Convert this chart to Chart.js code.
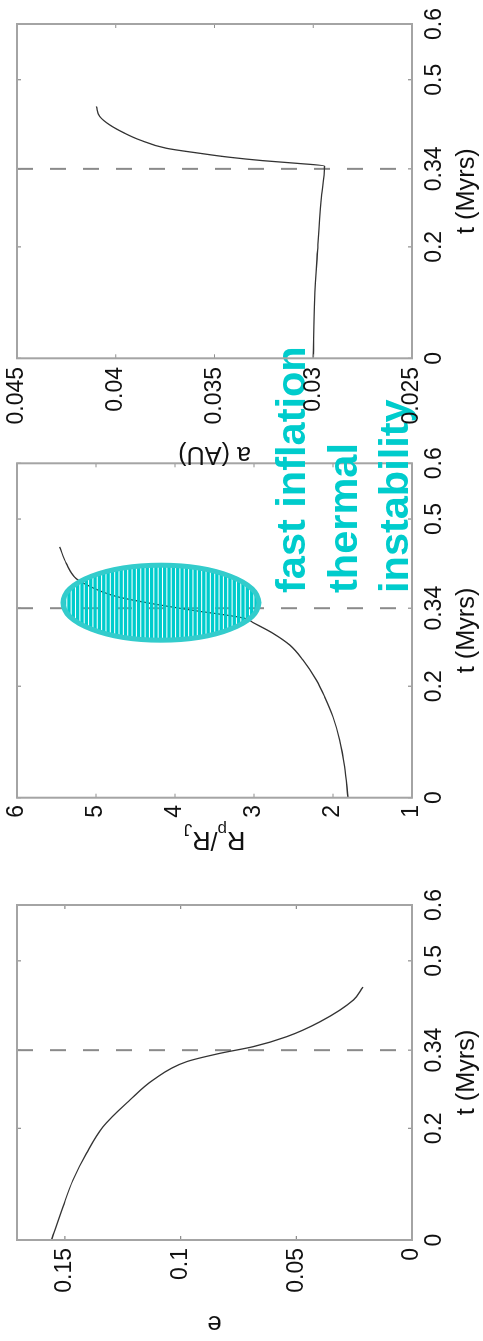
<!DOCTYPE html>
<html>
<head>
<meta charset="utf-8">
<title>Planet evolution: e, Rp/RJ and a versus time</title>
<script src="https://cdn.jsdelivr.net/npm/chart.js@4.4.1/dist/chart.umd.min.js"></script>
<style>
  html, body { margin: 0; padding: 0; background: #fff; overflow: hidden; width: 483px; height: 1341px; }
  /* the three panels are laid out side by side, then the whole figure is turned a quarter turn */
  #figure { position: absolute; left: 0; top: 0; width: 1341px; height: 483px;
            transform-origin: 0 0; transform: translateY(1341px) rotate(-90deg); }
  #figure canvas { position: absolute; left: 0; top: 0; }
</style>
</head>
<body>
<div id="figure">
  <canvas id="eccChart" width="1341" height="483"></canvas>
  <canvas id="radChart" width="1341" height="483"></canvas>
  <canvas id="smaChart" width="1341" height="483"></canvas>
</div>
<script>
// ---- data ---------------------------------------------------------------
const timeTicks = [0, 0.2, 0.34, 0.5, 0.6];
const transitionTime = 0.34;

// eccentricity
const eccTimes  = [0, 0.06, 0.1075, 0.155, 0.2028, 0.2507, 0.2866, 0.3194, 0.3343, 0.3463, 0.3642, 0.391, 0.43, 0.453];
const eccValues = [0.1558, 0.1508, 0.1465, 0.1407, 0.1335, 0.1219, 0.1119, 0.0974, 0.0830, 0.0686, 0.0541, 0.0397, 0.0253, 0.0212];
const eccTicks  = [0, 0.05, 0.1, 0.15];

// planet radius in Jupiter radii
const radTimes  = [0, 0.0556, 0.1035, 0.145, 0.181, 0.211, 0.247, 0.274, 0.295, 0.314, 0.322, 0.337, 0.349, 0.361, 0.385, 0.393, 0.42, 0.45];
const radValues = [1.81, 1.852, 1.915, 2.0, 2.105, 2.21, 2.38, 2.548, 2.76, 3.01, 3.12, 3.81, 4.32, 4.74, 5.16, 5.25, 5.375, 5.46];
const radTicks  = [1, 2, 3, 4, 5, 6];

// semi-major axis in AU
const smaTimes  = [0, 0.105, 0.194, 0.284, 0.345, 0.35, 0.3547, 0.3608, 0.368, 0.377, 0.392, 0.404, 0.419, 0.434, 0.452];
const smaValues = [0.0300, 0.02993, 0.02978, 0.0296, 0.02943, 0.03085, 0.03254, 0.03423, 0.03575, 0.03744, 0.03879, 0.03955, 0.04031, 0.04081, 0.04098];
const smaTicks  = [0.025, 0.03, 0.035, 0.04, 0.045];

// highlighted episode on the radius panel: centre (t, Rp/RJ) and half-widths
const episodeCentre = [0.3499, 4.178];
const episodeHalf   = [0.0673, 1.24];
const noteLines = ['fast inflation', 'thermal', 'instability'];

// ---- styling ------------------------------------------------------------
const FAMILY = '"Liberation Sans", Arial, Helvetica, sans-serif';
const tickFont  = { family: FAMILY, size: 23, lineHeight: 1.2 };
const titleFont = { family: FAMILY, size: 25.3, lineHeight: 1.2 };
const TEXT = '#111';

// box outline with short inward ticks on all four sides
const boxTicks = {
  id: 'boxTicks',
  afterDatasetsDraw(chart) {
    const { ctx, chartArea: a, scales: { x, y } } = chart;
    const L = 4;
    ctx.save();
    ctx.strokeStyle = '#8f8f8f';
    ctx.lineWidth = 1.2;
    ctx.beginPath();
    x.ticks.forEach(t => {
      const p = x.getPixelForValue(t.value);
      ctx.moveTo(p, a.bottom); ctx.lineTo(p, a.bottom - L);
      ctx.moveTo(p, a.top);    ctx.lineTo(p, a.top + L);
    });
    y.ticks.forEach(t => {
      const p = y.getPixelForValue(t.value);
      ctx.moveTo(a.left, p);  ctx.lineTo(a.left + L, p);
      ctx.moveTo(a.right, p); ctx.lineTo(a.right - L, p);
    });
    ctx.stroke();
    ctx.strokeStyle = '#a4a4a4';
    ctx.lineWidth = 2;
    ctx.strokeRect(a.left, a.top, a.right - a.left, a.bottom - a.top);
    ctx.restore();
  }
};

function panel(canvasId, spec) {
  const curve = spec.times.map((t, i) => ({ x: t, y: spec.values[i] }));
  const yMin = spec.ticks[0], yMax = spec.max;
  return new Chart(document.getElementById(canvasId), {
    type: 'line',
    data: {
      datasets: [
        { data: curve, borderColor: '#333', borderWidth: 1.3, pointRadius: 0,
          cubicInterpolationMode: 'monotone', fill: false },
        { data: [{ x: transitionTime, y: yMax }, { x: transitionTime, y: yMin }],
          borderColor: '#8a8a8a', borderWidth: 2, borderDash: [16, 17], pointRadius: 0, fill: false }
      ]
    },
    options: {
      responsive: false,
      animation: false,
      events: [],
      layout: { padding: { left: spec.padLeft, right: spec.padRight, top: 17, bottom: 0 } },
      plugins: { legend: { display: false }, tooltip: { enabled: false } },
      scales: {
        x: {
          type: 'linear', position: 'bottom', min: 0, max: 0.6,
          grid: { display: false, drawTicks: false }, border: { display: false },
          afterBuildTicks: s => { s.ticks = timeTicks.map(v => ({ value: v })); },
          afterFit: s => { s.height = 71; s.paddingLeft = 0; s.paddingRight = 0; },
          ticks: { autoSkip: false, maxRotation: 0, minRotation: 0, padding: 9, color: TEXT,
                   font: tickFont, callback: v => String(v) },
          title: { display: true, text: 't (Myrs)', color: TEXT, font: titleFont,
                   padding: { top: 0, bottom: 0.5 } }
        },
        y: {
          type: 'linear', position: 'left', min: yMin, max: yMax,
          grid: { display: false, drawTicks: false }, border: { display: false },
          afterBuildTicks: s => { s.ticks = spec.ticks.map(v => ({ value: v })); },
          afterFit: s => { s.width = spec.axisWidth; s.paddingTop = 0; s.paddingBottom = 0; },
          ticks: { autoSkip: false, padding: spec.tickPad, color: TEXT, font: tickFont,
                   callback: v => String(v) },
          title: { display: !!spec.title, text: spec.title || '', color: TEXT, font: titleFont,
                   padding: { top: spec.titlePad, bottom: 0 } }
        }
      }
    },
    plugins: [boxTicks].concat(spec.extra || [])
  });
}

// R_p / R_J axis title with subscripts
const radiusTitle = {
  id: 'radiusTitle',
  afterDraw(chart) {
    const { ctx, chartArea: a } = chart;
    const parts = [['R', 0], ['p', 1], ['/', 0], ['R', 0], ['J', 1]];
    const big = '25.3px ' + FAMILY, small = '17px ' + FAMILY;
    ctx.save();
    let total = 0;
    parts.forEach(([s, sub]) => { ctx.font = sub ? small : big; total += ctx.measureText(s).width; });
    ctx.translate(509, (a.top + a.bottom) / 2);
    ctx.rotate(-Math.PI / 2);
    ctx.fillStyle = TEXT;
    ctx.textBaseline = 'alphabetic';
    let px = -total / 2;
    parts.forEach(([s, sub]) => {
      ctx.font = sub ? small : big;
      ctx.fillText(s, px, sub ? 8 : 0);
      px += ctx.measureText(s).width;
    });
    ctx.restore();
  }
};

// striped ellipse marking the inflation episode, plus its note
const episode = {
  id: 'episode',
  afterDraw(chart) {
    const { ctx, scales: { x, y } } = chart;
    const cx = x.getPixelForValue(episodeCentre[0]);
    const cy = y.getPixelForValue(episodeCentre[1]);
    const rx = Math.abs(x.getPixelForValue(episodeCentre[0] + episodeHalf[0]) - cx);
    const ry = Math.abs(y.getPixelForValue(episodeCentre[1] + episodeHalf[1]) - cy);
    ctx.save();
    ctx.beginPath();
    ctx.ellipse(cx, cy, rx, ry, 0, 0, Math.PI * 2);
    ctx.clip();
    ctx.fillStyle = '#00cccc';
    for (let yy = cy - ry; yy < cy + ry; yy += 4.35) ctx.fillRect(cx - rx, yy, 2 * rx, 3.3);
    ctx.restore();
    ctx.save();
    ctx.beginPath();
    ctx.ellipse(cx, cy, rx, ry, 0, 0, Math.PI * 2);
    ctx.lineWidth = 5;
    ctx.strokeStyle = '#33cccc';
    ctx.stroke();
    ctx.restore();

    ctx.save();
    ctx.fillStyle = '#00cccc';
    ctx.font = 'bold 41.5px ' + FAMILY;
    ctx.textAlign = 'left';
    ctx.textBaseline = 'alphabetic';
    noteLines.forEach((s, i) => ctx.fillText(s, 748, 305 + i * 51.5));
    ctx.restore();
  }
};

panel('eccChart', { times: eccTimes, values: eccValues, ticks: eccTicks, max: 0.1707,
  padLeft: 0, padRight: 905, axisWidth: 101, tickPad: 8, title: 'e', titlePad: 3 });
panel('radChart', { times: radTimes, values: radValues, ticks: radTicks, max: 6,
  padLeft: 450, padRight: 463.3, axisWidth: 93.3, tickPad: 7.3, title: null, titlePad: 0,
  extra: [radiusTitle, episode] });
panel('smaChart', { times: smaTimes, values: smaValues, ticks: smaTicks, max: 0.045,
  padLeft: 870, padRight: 24, axisWidth: 112.7, tickPad: 8.7, title: 'a (AU)', titlePad: 2.3 });
</script>
</body>
</html>
